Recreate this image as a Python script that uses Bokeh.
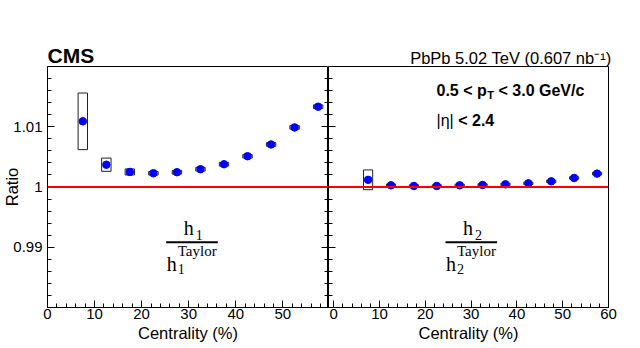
from bokeh.plotting import figure
from bokeh.layouts import row
from bokeh.models import (Range1d, LinearAxis, SingleIntervalTicker, FixedTicker,
                          CustomJSTickFormatter, Span, Label, BoxAnnotation, ColumnDataSource)
from bokeh.embed import file_html
from bokeh.resources import INLINE

# ---------------- data ----------------
centrality = [7.5, 12.5, 17.5, 22.5, 27.5, 32.5, 37.5, 42.5, 47.5, 52.5, 57.5]
bin_width = [2, 2, 2, 2, 2, 2, 2, 2, 2, 2, 2]

h1_ratio = [1.0109, 1.0037, 1.0025, 1.00228, 1.00245, 1.00295, 1.00378, 1.00511, 1.00706, 1.00989, 1.01333]
h1_sys = [0.0047, 0.0011, 0.0005, 0.0003, 0.0003, 0.0003, 0.0003, 0.0003, 0.0003, 0.0003, 0.0003]

h2_ratio = [1.00119, 1.00028, 1.00017, 1.00017, 1.00028, 1.00033, 1.00044, 1.00061, 1.00094, 1.0015, 1.00222]
h2_sys = [0.00164, 0.0002, 0.0002, 0.0002, 0.0002, 0.0002, 0.0002, 0.0002, 0.0002, 0.0002, 0.0002]

y_range = (0.98, 1.02)
y_major_ticks = [0.99, 1.0, 1.01]
y_minor_ticks = [0.982, 0.984, 0.986, 0.988, 0.992, 0.994, 0.996, 0.998,
                 1.002, 1.004, 1.006, 1.008, 1.012, 1.014, 1.016, 1.018]
left_x_range = (0, 59.7)
right_x_range = (-1.15, 60)

x_title = "Centrality (%)"
y_title = "Ratio"
left_title = "CMS"
right_title = "PbPb 5.02 TeV (0.607 nb\u207b\u00b9)"

SANS = "Liberation Sans"
SERIF = "Liberation Serif"
DY = 6  # baseline correction for labels


def yticker():
    return FixedTicker(ticks=y_major_ticks, minor_ticks=y_minor_ticks)


def style_axis(a, label_size="15px"):
    a.major_tick_in = 7
    a.major_tick_out = 0
    a.minor_tick_in = 4
    a.minor_tick_out = 0
    a.major_label_text_font = SANS
    a.major_label_text_font_size = label_size
    a.major_label_text_color = "black"
    a.axis_line_color = "black"
    a.major_tick_line_color = "black"
    a.minor_tick_line_color = "black"
    a.axis_label_text_font = SANS
    a.axis_label_text_font_size = "16.5px"
    a.axis_label_text_font_style = "normal"
    a.axis_label_text_color = "black"


def make_fig(xr, width, border_left, border_right):
    p = figure(width=width, height=348, x_range=Range1d(*xr), y_range=Range1d(*y_range),
               output_backend="svg", toolbar_location=None,
               min_border_left=border_left, min_border_right=border_right,
               min_border_top=66, min_border_bottom=41)
    p.grid.visible = False
    p.outline_line_color = "black"
    p.outline_line_width = 1
    p.outline_line_alpha = 1
    p.background_fill_color = "white"
    p.border_fill_color = "white"
    ax = p.xaxis[0]
    ax.ticker = SingleIntervalTicker(interval=10, num_minor_ticks=5)
    style_axis(ax)
    ax.major_label_standoff = 1
    ax.axis_label = x_title
    ax.axis_label_standoff = 2
    ay = p.yaxis[0]
    ay.ticker = yticker()
    style_axis(ay)
    p.title.text_font = SANS
    p.title.text_color = "black"
    p.title.standoff = 0
    p.title.offset = 0
    return p


def blank_axis(a):
    a.formatter = CustomJSTickFormatter(code="return '';")
    a.major_label_standoff = 0


def add_data(p, ratio, sys):
    src = ColumnDataSource(dict(x=centrality, y=ratio, w=bin_width,
                                h=[2 * s for s in sys]))
    p.rect(x="x", y="y", width="w", height="h", source=src, fill_color=None,
           line_color="#222222", line_width=1)
    p.scatter(x="x", y="y", source=src, size=7.5, marker="circle",
              fill_color="#0000ff", line_color="#0000ff")
    p.add_layout(Span(location=1.0, dimension="width", line_color="#ff0000", line_width=2))


def label(p, x, y, text, size, font=SANS, style="normal", align="left"):
    p.add_layout(Label(x=x, y=y + DY, x_units="screen", y_units="screen", text=text,
                       text_font=font, text_font_size=size, text_font_style=style,
                       text_align=align, text_baseline="alphabetic", text_color="black"))


def fraction(p, x0, idx):
    # x0: screen x of fraction bar left edge (relative to frame)
    p.add_layout(BoxAnnotation(left=x0, right=x0 + 51.6, bottom=64.3, top=66.3,
                               left_units="screen", right_units="screen",
                               bottom_units="screen", top_units="screen",
                               fill_color="black", fill_alpha=1, line_alpha=0))
    label(p, x0 + 17.5, 74, "h", "20px", SERIF)
    label(p, x0 + 29.5, 67, idx, "14px", SERIF)
    label(p, x0 + 0.5, 38, "h", "20px", SERIF)
    label(p, x0 + 11.5, 51, "Taylor", "15px", SERIF)
    label(p, x0 + 11.5, 33, idx, "14px", SERIF)


# ---------------- left panel ----------------
left = make_fig(left_x_range, 328, 47, 0)
ly = left.yaxis[0]
ly.formatter = CustomJSTickFormatter(code="return Number(tick.toFixed(4)).toString();")
ly.major_label_standoff = 5
ly.axis_label = y_title
ly.axis_label_standoff = -11
rax = LinearAxis(ticker=yticker())
style_axis(rax)
blank_axis(rax)
left.add_layout(rax, "right")
left.title.text = left_title
left.title.text_font_size = "21px"
left.title.text_font_style = "bold"
left.title.align = "left"
add_data(left, h1_ratio, h1_sys)
fraction(left, 118.7, "1")

# ---------------- right panel ----------------
right = make_fig(right_x_range, 296, 0, 16)
blank_axis(right.yaxis[0])
right.title.text = right_title
right.title.text_font_size = "16.5px"
right.title.text_font_style = "normal"
right.title.align = "right"
right.title.offset = -3
add_data(right, h2_ratio, h2_sys)
label(right, 108, 211.5, "0.5 < p", "16px", SANS, "bold")
label(right, 158.8, 207, "T", "11px", SANS, "bold")
label(right, 170, 211.5, "< 3.0 GeV/c", "16px", SANS, "bold")
label(right, 108, 181, "|\u03b7|", "16px", SANS)
label(right, 129.7, 181, "< 2.4", "16px", SANS, "bold")
fraction(right, 117, "2")

layout = row(left, right)
layout.spacing = 0

open("out.html", "w").write(file_html(layout, INLINE))
